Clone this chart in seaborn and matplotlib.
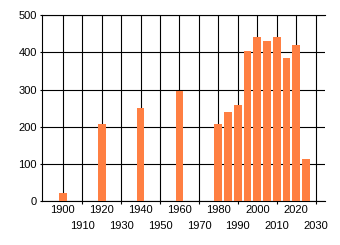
import matplotlib
matplotlib.use("Agg")
import matplotlib.pyplot as plt
import seaborn as sns
import pandas as pd

years = [1900, 1920, 1940, 1960, 1980, 1985, 1990, 1995, 2000, 2005, 2010, 2015, 2020, 2025]
values = [22, 207, 251, 297, 208, 239, 258, 403, 440, 429, 440, 384, 419, 113]
row1_labels = [1900, 1920, 1940, 1960, 1980, 2000, 2020]
row2_labels = [1910, 1930, 1950, 1970, 1990, 2010, 2030]
y_ticks = [0, 100, 200, 300, 400, 500]

sns.set_style("white")
plt.rcParams['font.family'] = ['Liberation Sans Narrow', 'Liberation Sans', 'DejaVu Sans']

df = pd.DataFrame({"year": years, "value": values})

fig = plt.figure(figsize=(3.4, 2.45), dpi=100)
ax = fig.add_axes([41.7 / 340, 1 - 201.3 / 245, (325 - 41.7) / 340, (201.3 - 15) / 245])

sns.barplot(data=df, x="year", y="value", native_scale=True, width=0.8,
            color="#FF7F42", saturation=1, linewidth=0, ax=ax, zorder=3)

ax.set_xlim(1889.2, 2034.8)
ax.set_ylim(0, 500)
ax.set_xlabel("")
ax.set_ylabel("")

ax.set_xticks(row2_labels)
ax.set_xticklabels([str(v) for v in row2_labels])
ax.set_xticks(row1_labels, minor=True)
ax.set_xticklabels([str(v) for v in row1_labels], minor=True)
ax.set_yticks(y_ticks)
ax.set_yticklabels([str(v) for v in y_ticks])

ax.tick_params(axis="x", which="major", length=1.8, width=0.8, color="black",
               pad=12.5, labelsize=8, labelcolor="black", direction="out", bottom=True)
ax.tick_params(axis="x", which="minor", length=0, pad=2.6, labelsize=8,
               labelcolor="black", bottom=True)
ax.tick_params(axis="y", which="major", length=1.8, width=0.8, color="black",
               pad=1.6, labelsize=8, labelcolor="black", left=True)

ax.grid(True, which="both", axis="x", color="black", linewidth=0.8)
ax.grid(True, which="major", axis="y", color="black", linewidth=0.8)
ax.set_axisbelow(True)

for side in ["left", "bottom", "top"]:
    ax.spines[side].set_visible(True)
    ax.spines[side].set_color("black")
    ax.spines[side].set_linewidth(0.8)
ax.spines["right"].set_visible(False)

fig.savefig("out.png", dpi=100)
